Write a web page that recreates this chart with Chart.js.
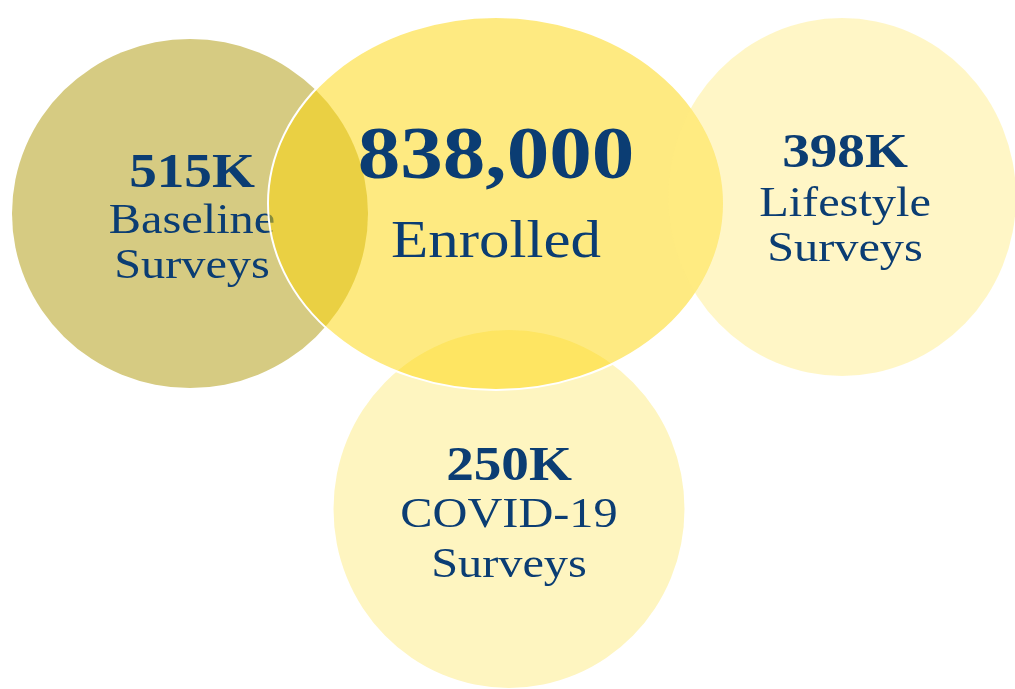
<!DOCTYPE html>
<html>
<head>
<meta charset="utf-8">
<script src="https://cdn.jsdelivr.net/npm/chart.js@4/dist/chart.umd.min.js"></script>
<style>
    html, body { margin: 0; padding: 0; background: #fff; }
    #wrap { width: 1015px; height: 689px; }
</style>
</head>
<body>
<div id="wrap"><canvas id="cohortChart" width="1015" height="689"></canvas></div>
<script>

// groups, in the order they are painted (later ones sit on top)
const categories = ['COVID-19 Surveys', 'Baseline Surveys', 'Enrolled', 'Lifestyle Surveys'];

const participants = [250000, 515000, 838000, 398000];

const labelLines = [
    ['COVID-19', 'Surveys'],
    ['Baseline', 'Surveys'],
    ['Enrolled'],
    ['Lifestyle', 'Surveys']
];

// layout, in axis units (1 unit = 1px on this canvas)
const centerX = [509, 190, 496, 842];
const centerY = [509, 213.5, 203.5, 197];
const radiusX = [175.5, 178, 228, 174];
const radiusY = [179, 174.5, 186.5, 179];

const textX = [509, 192, 496, 845];
const valueY = [480, 187, 178, 167];
const nameY = [[527, 577], [233, 278], [257], [216, 261]];

const fills = [
    'rgb(254,245,192)',
    'rgb(214,203,130)',
    'rgba(253,214,7,0.51)',
    'rgba(254,234,128,0.45)'
];

const borders = [null, null, '#ffffff', null];

const TEXT_COLOR = '#0b3d73';
const FONT = '"Liberation Serif", "DejaVu Serif", serif';
const STRETCH = 1.15;

function formatCount(v) {
    if (v >= 800000) {
        return v.toLocaleString('en-US');
    }
    return Math.round(v / 1000) + 'K';
}

function stretchedText(ctx, text, x, y, font) {
    ctx.save();
    ctx.font = font;
    ctx.textAlign = 'center';
    ctx.textBaseline = 'alphabetic';
    ctx.translate(x, y);
    ctx.scale(STRETCH, 1);
    ctx.fillText(text, 0, 0);
    ctx.restore();
}

const circlesPlugin = {
    id: 'circles',
    afterDatasetsDraw(chart) {
        const ctx = chart.ctx;
        const xs = chart.scales.x;
        const ys = chart.scales.y;

        chart.data.datasets.forEach((ds, i) => {
            const pt = chart.getDatasetMeta(i).data[0];
            const rx = Math.abs(xs.getPixelForValue(centerX[i] + radiusX[i]) - pt.x);
            const ry = Math.abs(ys.getPixelForValue(centerY[i] + radiusY[i]) - pt.y);

            ctx.save();
            ctx.beginPath();
            ctx.ellipse(pt.x, pt.y, rx, ry, 0, 0, Math.PI * 2);
            ctx.fillStyle = fills[i];
            ctx.fill();
            if (borders[i]) {
                ctx.lineWidth = 2;
                ctx.strokeStyle = borders[i];
                ctx.stroke();
            }
            ctx.restore();

            const big = participants[i] >= 800000;
            const tx = xs.getPixelForValue(textX[i]);

            ctx.fillStyle = TEXT_COLOR;
            stretchedText(ctx, formatCount(participants[i]), tx,
                    ys.getPixelForValue(valueY[i]),
                    'bold ' + (big ? 74 : 48) + 'px ' + FONT);

            labelLines[i].forEach((line, j) => {
                stretchedText(ctx, line, tx,
                        ys.getPixelForValue(nameY[i][j]),
                        (big ? 53 : 42) + 'px ' + FONT);
            });
        });
    }
};

new Chart(document.getElementById('cohortChart'), {
    type: 'scatter',
    data: {
        labels: categories,
        datasets: categories.map((c, i) => ({
            label: c,
            data: [{ x: centerX[i], y: centerY[i] }],
            pointRadius: 0,
            pointHoverRadius: 0
        }))
    },
    options: {
        responsive: false,
        animation: false,
        events: [],
        layout: { padding: 0 },
        plugins: {
            legend: { display: false },
            tooltip: { enabled: false }
        },
        scales: {
            x: { type: 'linear', min: 0, max: 1015, display: false },
            y: { type: 'linear', min: 0, max: 689, reverse: true, display: false }
        }
    },
    plugins: [circlesPlugin]
});

</script>
</body>
</html>
